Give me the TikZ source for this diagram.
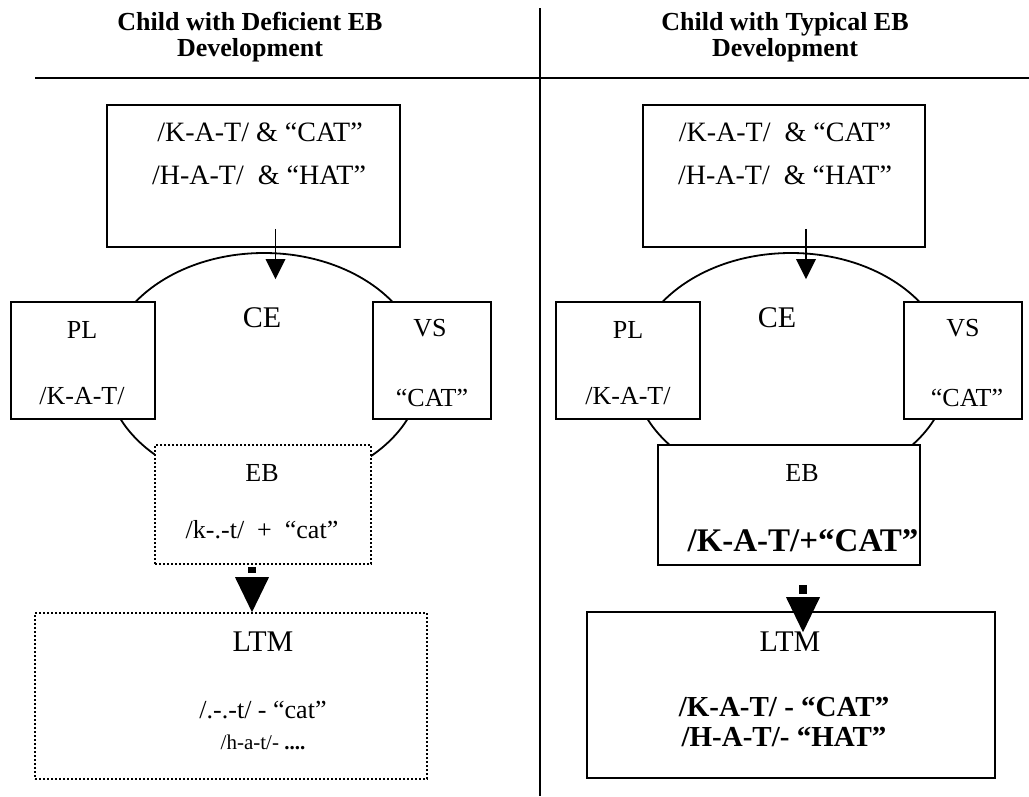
\documentclass[tikz,border=0pt]{standalone}
\usepackage{fontspec}
\setmainfont{Liberation Serif}
\usetikzlibrary{shapes.geometric,arrows.meta,calc}

\tikzset{
  box/.style={draw, line width=1.6pt, fill=white, inner sep=0pt},
  dotbox/.style={box, dash pattern=on 1.6pt off 2.4pt},
  ring/.style={draw, ellipse, line width=1.8pt, inner sep=0pt, minimum width=316pt, minimum height=234pt},
  lbl/.style={inner sep=0pt, font=\fontsize{26}{30}\selectfont},
  toplbl/.style={inner sep=0pt, font=\fontsize{28}{30}\selectfont},
  big/.style={inner sep=0pt, font=\fontsize{30}{34}\selectfont},
  small/.style={inner sep=0pt, font=\fontsize{21}{24}\selectfont},
  boldbig/.style={inner sep=0pt, font=\fontsize{33}{36}\selectfont\bfseries},
  boldmid/.style={inner sep=0pt, align=center, font=\fontsize{29}{30}\selectfont\bfseries},
  head/.style={inner sep=0pt, align=center, font=\fontsize{26}{26}\selectfont\bfseries},
  thinarrow/.style={line width=1.5pt, -{Triangle[length=20pt,width=20pt,line width=0pt]}},
  fatarrow/.style={line width=8pt, -{Triangle[length=35pt,width=34pt,line width=0pt]}},
}

\begin{document}
\begin{tikzpicture}[x=1pt,y=-1pt]
  \useasboundingbox (0,0) rectangle (1029,796);
  % headings and rules
  \node[head] (headL) at (250,37) {Child with Deficient EB\\Development};
  \node[head] (headR) at (785,37) {Child with Typical EB\\Development};
  \draw[line width=2.5pt] (35,78) -- (1029,78);
  \draw[line width=1.5pt] (540,8) -- (540,796);

  % left: deficient EB
  \node[ring] (ringL) at (264,370) {};
  \node[box, minimum width=293pt, minimum height=142pt] (topL) at (253.5,176) {};
  \node[toplbl] (topL1) at (260,132) {/K-A-T/ \& “CAT”};
  \node[toplbl] (topL2) at (259,175) {/H-A-T/ \ \& “HAT”};
  \node[big] (ceL) at (262,318) {CE};
  \node[box, minimum width=144pt, minimum height=117pt] (plL) at (83,360.5) {};
  \node[lbl] (plL1) at (82,330) {PL};
  \node[lbl] (plL2) at (82,396) {/K-A-T/};
  \node[box, minimum width=118pt, minimum height=117pt] (vsL) at (432,360.5) {};
  \node[lbl] (vsL1) at (430,328) {VS};
  \node[lbl] (vsL2) at (432,398) {“CAT”};
  \node[dotbox, minimum width=216pt, minimum height=119pt] (ebL) at (263,504.5) {};
  \node[lbl] (ebL1) at (262,473) {EB};
  \node[lbl] (ebL2) at (262,530) {/k-.-t/ \ + \ “cat”};
  \node[dotbox, minimum width=392pt, minimum height=166pt] (ltmL) at (231,696) {};
  \node[big] (ltmL1) at (263,642) {LTM};
  \node[lbl] (ltmL2) at (263,710) {/.-.-t/ - “cat”};
  \node[small] (ltmL3) at (263,742) {/h-a-t/- \textbf{....}};
  \draw[thinarrow] ($(topL.south)+(22,-19)$) -- ($(topL.south |- ringL.north)+(22,27)$);
  \draw[fatarrow, dash pattern=on 6pt off 30pt] ($(ebL.south)+(-11,2)$) -- ($(ebL.south |- ltmL.north)+(-11,0)$);

  % right: typical EB
  \node[ring] (ringR) at (791,370) {};
  \node[box, minimum width=282pt, minimum height=142pt] (topR) at (784,176) {};
  \node[toplbl] (topR1) at (785,132) {/K-A-T/ \ \& “CAT”};
  \node[toplbl] (topR2) at (785,175) {/H-A-T/ \ \& “HAT”};
  \node[big] (ceR) at (777,318) {CE};
  \node[box, minimum width=144pt, minimum height=117pt] (plR) at (628,360.5) {};
  \node[lbl] (plR1) at (628,330) {PL};
  \node[lbl] (plR2) at (628,396) {/K-A-T/};
  \node[box, minimum width=118pt, minimum height=117pt] (vsR) at (963,360.5) {};
  \node[lbl] (vsR1) at (963,328) {VS};
  \node[lbl] (vsR2) at (967,398) {“CAT”};
  \node[box, minimum width=262pt, minimum height=120pt] (ebR) at (789,505) {};
  \node[lbl] (ebR1) at (802,473) {EB};
  \node[boldbig] (ebR2) at (803,541) {/K-A-T/+“CAT”};
  \node[box, minimum width=408pt, minimum height=166pt] (ltmR) at (791,695) {};
  \node[big] (ltmR1) at (790,642) {LTM};
  \node[boldmid] (ltmR2) at (784,722) {/K-A-T/ - “CAT”\\/H-A-T/- “HAT”};
  \draw[thinarrow] ($(topR.south)+(22,-19)$) -- ($(topR.south |- ringR.north)+(22,27)$);
  \draw[fatarrow, dash pattern=on 9pt off 30pt] ($(ebR.south)+(14,19)$) -- ($(ebR.south |- ltmR.north)+(14,21)$);
\end{tikzpicture}
\end{document}
